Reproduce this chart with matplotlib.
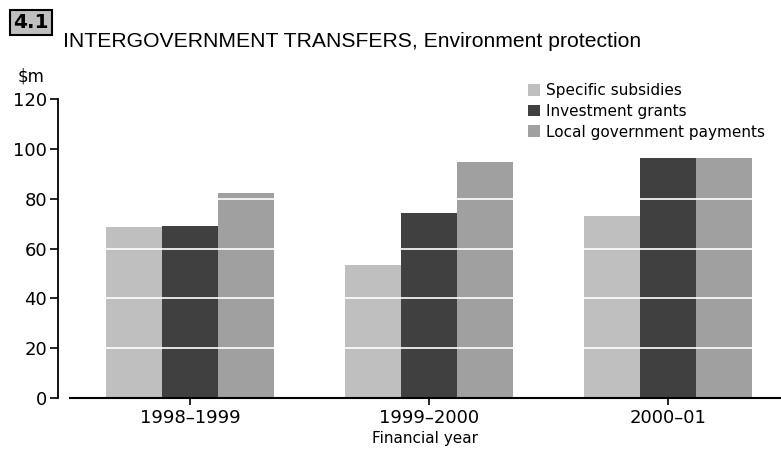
import numpy as np
import matplotlib.pyplot as plt
from matplotlib.patches import Rectangle

# ======================
# Data
# ======================

years = ["1998\u20131999", "1999\u20132000", "2000\u201301"]
specific_subsidies = [68.8, 53.4, 73.2]
investment_grants = [69.2, 74.4, 96.5]
local_govt_payments = [82.4, 94.9, 96.5]

series_names = ["Specific subsidies", "Investment grants", "Local government payments"]
series_colors = ["#bfbfbf", "#404040", "#a0a0a0"]

W, H = 781, 458
fig = plt.figure(figsize=(W / 100, H / 100), dpi=100)
ax = fig.add_axes([70 / W, 1 - 397.7 / H, 711 / W, 298.4 / H])

x = np.arange(len(years))
bar_w = 0.234
series = [specific_subsidies, investment_grants, local_govt_payments]
for i, (vals, name, col) in enumerate(zip(series, series_names, series_colors)):
    ax.bar(x + (i - 1) * bar_w, vals, width=bar_w, color=col, label=name,
           linewidth=0, zorder=2)

# white gridlines cut through the bars
for yv in [20, 40, 60, 80, 100]:
    ax.axhline(yv, color="white", linewidth=1.2, zorder=3)

ax.set_xlim(-120 / 239, 591 / 239)
ax.set_ylim(0, 120)
ax.set_yticks([0, 20, 40, 60, 80, 100, 120])
ax.set_xticks(x)
ax.set_xticklabels(years)

for s in ["top", "right"]:
    ax.spines[s].set_visible(False)
ax.spines["left"].set_position(("outward", 8.6))
ax.spines["left"].set_linewidth(1.3)
ax.spines["bottom"].set_linewidth(1.5)
ax.tick_params(axis="y", direction="out", length=5.8, width=1.2,
               labelsize=13, pad=2)
ax.tick_params(axis="x", direction="out", length=5, width=1.2,
               labelsize=13, pad=3)

ax.set_xlabel("Financial year", fontsize=11, labelpad=3)
fig.text(18 / W, 1 - 76 / H, "$m", fontsize=12, ha="left", va="center")

leg = ax.legend(loc="upper left", bbox_to_anchor=(452 / 711, 1.075),
                frameon=False, fontsize=11, handlelength=0.8, handleheight=0.8,
                handletextpad=0.4, labelspacing=0.38, borderaxespad=0)

# chart number box and title
fig.patches.append(Rectangle((10 / W, 1 - 35 / H), 42 / W, 25 / H,
                             transform=fig.transFigure, facecolor="#bfbfbf",
                             edgecolor="black", linewidth=1.5))
fig.text(31 / W, 1 - 22.5 / H, "4.1", fontsize=14.5, fontweight="bold",
         ha="center", va="center")
fig.text(63 / W, 1 - 47 / H, "INTERGOVERNMENT TRANSFERS, Environment protection",
         fontsize=15.2, ha="left", va="baseline",
         family=["Liberation Sans", "DejaVu Sans"])

fig.savefig("out.png", dpi=100)
